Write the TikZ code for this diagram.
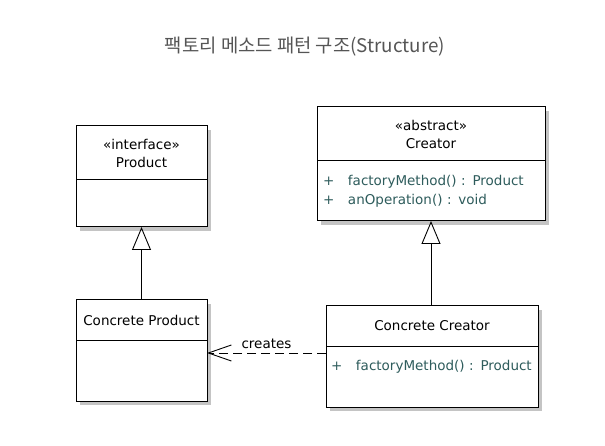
\documentclass[tikz,border=0pt]{standalone}
\usepackage{fontspec}
\setsansfont{DejaVu Sans}
\newfontfamily\kofont{Noto Sans CJK KR}
\usetikzlibrary{arrows.meta,positioning,calc,shadows}
\definecolor{titlegray}{HTML}{555555}
\definecolor{optext}{HTML}{2E5C5C}
\definecolor{shadowgray}{HTML}{C4C4C4}

\begin{document}
\begin{tikzpicture}[x=1pt,y=-1pt,font=\sffamily\fontsize{13.5}{18}\selectfont,
   node distance=0pt,
   cls/.style={draw,line width=1pt,fill=white,inner sep=0pt,outer sep=0pt,align=center,
               drop shadow={shadow xshift=4pt,shadow yshift=-4pt,fill=shadowgray,opacity=1}},
   ops/.style={cls,align=left,text=optext,font=\sffamily\fontsize{13.5}{19}\selectfont},
   gen/.style={-{Triangle[open,length=23pt,width=19pt]},line width=0.9pt},
   dep/.style={-{Straight Barb[length=23pt,width=16pt]},line width=0.9pt,
               dash pattern=on 9pt off 5pt}]
  \useasboundingbox (0,0) rectangle (605,446);
  \node[font=\kofont\fontsize{18.8}{20}\selectfont,text=titlegray] (title) at (305,47)
       {팩토리 메소드 패턴 구조(Structure)};

  % interface and abstract class
  \node[cls,minimum width=131pt,minimum height=54pt] (prodhead) at (141.5,153) {«interface»\\Product};
  \node[cls,minimum width=131pt,minimum height=47pt,below=of prodhead] (prodbody) {};
  \node[cls,minimum width=228pt,minimum height=54pt] (crhead) at (431,134) {«abstract»\\Creator};
  \node[ops,minimum width=228pt,text width=216pt,minimum height=60pt,below=of crhead] (crbody)
       {\strut\makebox[25pt][l]{+}factoryMethod() : Product\\\strut\makebox[25pt][l]{+}anOperation() : void};

  % concrete classes
  \node[cls,minimum width=131pt,minimum height=40pt] (cphead) at (141.5,320) {Concrete Product};
  \node[cls,minimum width=131pt,minimum height=61pt,below=of cphead] (cpbody) {};
  \node[cls,minimum width=212pt,minimum height=40pt] (cchead) at (432,326) {Concrete Creator};
  \node[ops,minimum width=212pt,text width=202pt,minimum height=61pt,below=of cchead] (ccbody)
       {\strut\makebox[25pt][l]{+}factoryMethod() : Product\\\strut};

  \draw[gen] (cphead.north) -- (prodbody.south);
  \draw[gen] (cchead.north -| crbody.south) -- (crbody.south);
  \coordinate (depfrom) at ($(ccbody.north west)+(0,7)$);
  \draw[dep] (depfrom) -- (depfrom -| cpbody.east) node[midway,above=1pt] (deplabel) {creates};
\end{tikzpicture}
\end{document}
